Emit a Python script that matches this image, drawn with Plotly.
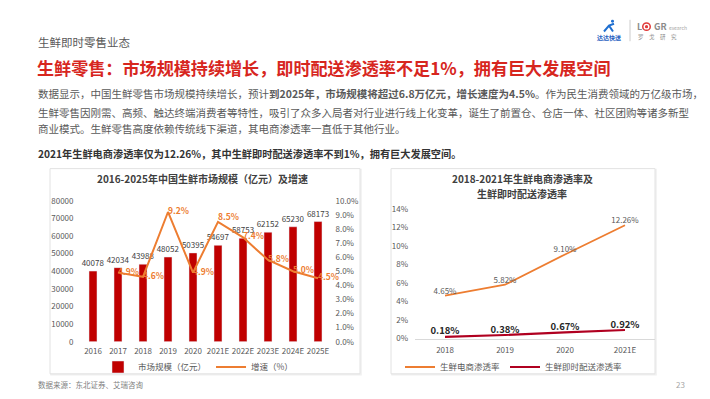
import plotly.graph_objects as go

# ---------------- data ----------------
years_left = ["2016", "2017", "2018", "2019", "2020", "2021E", "2022E", "2023E", "2024E", "2025E"]
market_size = [40078, 42034, 43988, 48052, 50395, 54697, 58753, 62152, 65230, 68173]
growth_rate = [None, 4.9, 4.6, 9.2, 4.9, 8.5, 7.4, 5.8, 5.0, 4.5]
growth_labels = ["", "4.9%", "4.6%", "9.2%", "4.9%", "8.5%", "7.4%", "5.8%", "5.0%", "4.5%"]

years_right = ["2018", "2019", "2020", "2021E"]
ecom_rate = [4.65, 5.82, 9.10, 12.26]
ecom_labels = ["4.65%", "5.82%", "9.10%", "12.26%"]
instant_rate = [0.18, 0.38, 0.67, 0.92]
instant_labels = ["0.18%", "0.38%", "0.67%", "0.92%"]

left_ticks = [0, 10000, 20000, 30000, 40000, 50000, 60000, 70000, 80000]

W, H = 710, 399
FONT = "Noto Sans CJK SC"
RED = "#C00000"
ORANGE = "#ED7D31"
GRAY = "#595959"


def X(px):
    return px / W


def Y(py):
    return 1 - py / H


fig = go.Figure()

# ---------------- left chart ----------------
fig.add_trace(go.Bar(
    x=years_left, y=market_size, name="市场规模（亿元）",
    marker=dict(color=RED), xaxis="x", yaxis="y",
    texttemplate="%{y:.0f}", textposition="outside", constraintext="none",
    textfont=dict(size=8, color="#404040", family=FONT),
    cliponaxis=False, legend="legend",
))
pos = ["middle right"] * len(years_left)
pos[5] = "top right"
fig.add_trace(go.Scatter(
    x=years_left, y=growth_rate, name="增速（%）", mode="lines+text",
    line=dict(color=ORANGE, width=2), xaxis="x", yaxis="y2",
    text=growth_labels, textposition=pos,
    textfont=dict(size=8.5, color=ORANGE, family=FONT, weight="bold"),
    cliponaxis=False, legend="legend",
))

# ---------------- right chart ----------------
fig.add_trace(go.Scatter(
    x=years_right, y=ecom_rate, name="生鲜电商渗透率", mode="lines+text",
    line=dict(color=ORANGE, width=1.8), xaxis="x3", yaxis="y3",
    text=ecom_labels, textposition="top center",
    textfont=dict(size=8, color=GRAY, family=FONT),
    cliponaxis=False, legend="legend2",
))
fig.add_trace(go.Scatter(
    x=years_right, y=instant_rate, name="生鲜即时配送渗透率", mode="lines+text",
    line=dict(color="#B00020", width=2.2), xaxis="x3", yaxis="y3",
    text=instant_labels, textposition="top center",
    textfont=dict(size=9.5, color="#262626", family=FONT, weight="bold"),
    cliponaxis=False, legend="legend2",
))

tickfont = dict(size=8, color=GRAY, family=FONT)

fig.update_layout(
    width=W, height=H, margin=dict(l=0, r=0, t=0, b=0),
    paper_bgcolor="white", plot_bgcolor="rgba(0,0,0,0)",
    font=dict(family=FONT, color=GRAY),
    bargap=0.68,
    xaxis=dict(domain=[X(72.5), X(322.5)], anchor="y", tickfont=tickfont,
               range=[-0.5, len(years_left) - 0.5], autorange=False,
               showgrid=False, showline=False, ticks="", ticklabelstandoff=3),
    yaxis=dict(domain=[Y(337), Y(192)], range=[0, 80000], tickvals=left_ticks,
               tickformat="d", tickfont=tickfont, showgrid=False, zeroline=False,
               ticks="", ticklabelstandoff=6),
    yaxis2=dict(overlaying="y", side="right", range=[0, 10], dtick=1,
                tickformat=".1f", ticksuffix="%", tickfont=tickfont,
                showgrid=False, zeroline=False, ticks="", ticklabelstandoff=4),
    xaxis3=dict(domain=[X(407), X(647)], anchor="y3", tickfont=tickfont,
                range=[-0.5, len(years_right) - 0.5], autorange=False,
                showgrid=False, showline=True, linecolor="#D9D9D9", linewidth=1,
                ticks="", ticklabelstandoff=4),
    yaxis3=dict(domain=[Y(333.7), Y(200.7)], range=[0, 14], dtick=2,
                ticksuffix="%", tickfont=tickfont, showgrid=False,
                zeroline=False, ticks="", ticklabelstandoff=6, anchor="x3"),
    legend=dict(orientation="h", x=X(190), y=Y(363), xanchor="center",
                yanchor="middle", font=dict(size=8.5, color=GRAY, family=FONT),
                itemwidth=30, bgcolor="rgba(0,0,0,0)", tracegroupgap=0),
    legend2=dict(orientation="h", x=X(506), y=Y(363), xanchor="center",
                 yanchor="middle", font=dict(size=8.5, color=GRAY, family=FONT),
                 itemwidth=30, bgcolor="rgba(0,0,0,0)"),
)

# ---------------- panels ----------------
for x0, x1 in [(42, 352), (383, 647)]:
    fig.add_shape(type="rect", xref="paper", yref="paper",
                  x0=X(x0 + 1), x1=X(x1 + 1), y0=Y(371), y1=Y(160),
                  line=dict(color="#F0F0F0", width=1.5), layer="below")
    fig.add_shape(type="rect", xref="paper", yref="paper",
                  x0=X(x0), x1=X(x1), y0=Y(370), y1=Y(159),
                  line=dict(color="#E2E2E2", width=1), fillcolor="white",
                  layer="below")

# ---------------- texts ----------------
def txt(s, x, y, size, color, anchor="left", bold=False):
    fig.add_annotation(text=s, x=X(x), y=Y(y), xref="paper", yref="paper",
                       xanchor=anchor, yanchor="middle", showarrow=False,
                       font=dict(size=size, color=color, family=FONT,
                                 weight="bold" if bold else "normal"))


txt("生鲜即时零售业态", 28, 29, 11.5, "#595959")
txt("生鲜零售：市场规模持续增长，即时配送渗透率不足1%，拥有巨大发展空间",
    27, 55, 17.1, "#D7261E", bold=True)
txt("数据显示，中国生鲜零售市场规模持续增长，预计<b>到2025年，市场规模将超过6.8万亿元，增长速度为4.5%</b>。作为民生消费领域的万亿级市场，",
    28, 82, 10.5, GRAY)
txt("生鲜零售因刚需、高频、触达终端消费者等特性，吸引了众多入局者对行业进行线上化变革，诞生了前置仓、仓店一体、社区团购等诸多新型",
    28, 101, 10.5, GRAY)
txt("商业模式。生鲜零售高度依赖传统线下渠道，其电商渗透率一直低于其他行业。",
    28, 118, 10.5, GRAY)
txt("2021年生鲜电商渗透率仅为12.26%，其中生鲜即时配送渗透率不到1%，拥有巨大发展空间。",
    28, 143, 10.2, "#333333", bold=True)

txt("2016-2025年中国生鲜市场规模（亿元）及增速", 194, 169, 10, "#404040",
    anchor="center", bold=True)
txt("2018-2021年生鲜电商渗透率及", 514, 169, 10, "#404040", anchor="center", bold=True)
txt("生鲜即时配送渗透率", 514, 185, 10, "#404040", anchor="center", bold=True)

txt("数据来源：东北证券、艾瑞咨询", 28, 381, 7.5, "#7F7F7F")
txt("23", 672, 381, 8, "#A6A6A6", anchor="center")

# ---------------- logo ----------------
txt("达达快送", 601, 24, 6, "#1F5FBF", anchor="center", bold=True)
fig.add_shape(type="circle", xref="paper", yref="paper",
              x0=X(603), x1=X(606), y0=Y(9), y1=Y(6),
              fillcolor="#1F6FD0", line=dict(width=0))
fig.add_shape(type="path", xref="paper", yref="paper",
              path=f"M {X(596)},{Y(18)} L {X(601)},{Y(12)} L {X(606)},{Y(10)} "
                   f"M {X(601)},{Y(12)} L {X(605)},{Y(18)}",
              line=dict(color="#1F6FD0", width=2))
fig.add_shape(type="line", xref="paper", yref="paper",
              x0=X(622), x1=X(622), y0=Y(6), y1=Y(28),
              line=dict(color="#BFBFBF", width=0.8))
txt("L", 627, 13, 9, "#8C8C8C", bold=True)
for r, c in [(4.5, "#E03A3A"), (3, "white"), (1.6, "#E03A3A")]:
    fig.add_shape(type="circle", xref="paper", yref="paper",
                  x0=X(638.5 - r), x1=X(638.5 + r), y0=Y(13 + r), y1=Y(13 - r),
                  fillcolor=c, line=dict(width=0))
txt("GR", 643.5, 13, 9, "#8C8C8C", bold=True)
txt("esearch", 659, 14, 5, "#A6A6A6")
txt("罗　戈　研　究", 628, 24, 5.5, "#8C8C8C")

fig.write_html("out.html")
